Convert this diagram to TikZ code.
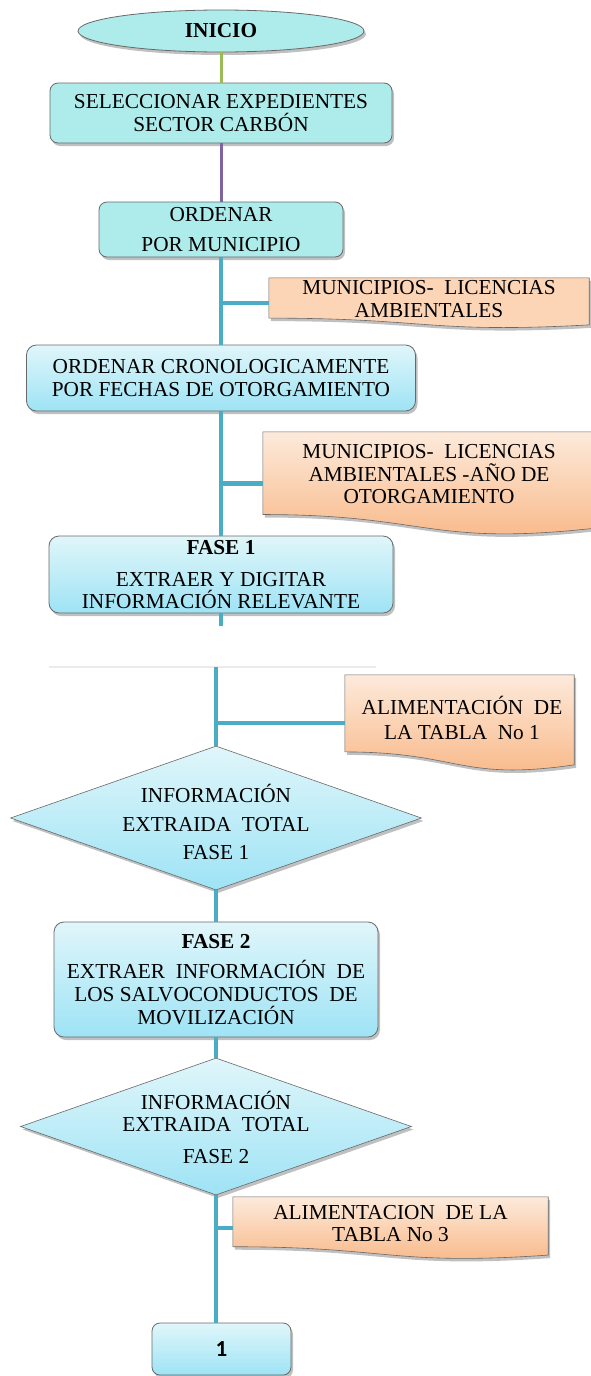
\documentclass[tikz,border=0pt]{standalone}
\usepackage{fontspec}
\setmainfont{Liberation Serif}
\newfontfamily\onefont{Carlito}
\usetikzlibrary{shapes.geometric,shadows,calc}
\definecolor{flatcyan}{RGB}{174,236,236}
\definecolor{cyantop}{RGB}{224,246,250}
\definecolor{cyanbot}{RGB}{158,227,245}
\definecolor{flatpeach}{RGB}{252,213,182}
\definecolor{peachtop}{RGB}{253,234,219}
\definecolor{peachbot}{RGB}{248,182,132}
\definecolor{bordergray}{RGB}{105,105,105}
\definecolor{spineblue}{RGB}{75,172,198}
\definecolor{spinegreen}{RGB}{155,187,89}
\definecolor{spinepurple}{RGB}{128,100,162}
\newcommand{\docpath}[1]{(#1.north west) -- (#1.north east) -- ($(#1.north east)!0.934!(#1.south east)$) .. controls ($(#1.north)!1.1075!(#1.south)$) and ($(#1.north)!0.8!(#1.south)$) .. ($(#1.north west)!0.8!(#1.south west)$) -- cycle}
\begin{document}
\begin{tikzpicture}[x=1pt,y=-1pt,
  every node/.style={font=\fontsize{21.3}{22.5}\selectfont, align=center, inner sep=0pt},
  shd/.style={drop shadow={shadow xshift=2pt,shadow yshift=-3pt,opacity=0.35,fill=black!70}},
  flatbox/.style={draw=bordergray, line width=0.8pt, fill=flatcyan, rounded corners=8pt, shd},
  gradbox/.style={draw=bordergray, line width=0.8pt, top color=cyantop, bottom color=cyanbot, rounded corners=10pt, shd},
  gradshape/.style={draw=bordergray, line width=0.6pt, top color=cyantop, bottom color=cyanbot, shd},
  docframe/.style={rectangle, draw=none, fill=none},
  flatdoc/.style={draw=bordergray, line width=0.6pt, fill=flatpeach, shd},
  graddoc/.style={draw=bordergray, line width=0.6pt, top color=peachtop, bottom color=peachbot, shd},
  spine/.style={draw=spineblue, line width=4.5pt},
  greenline/.style={draw=spinegreen, line width=3pt},
  purpleline/.style={draw=spinepurple, line width=3pt}
]
\useasboundingbox (0,0) rectangle (590,1376);
\fill[white] (0,0) rectangle (590,1376);

% page 1
\node[ellipse, draw=bordergray, line width=0.8pt, fill=flatcyan, shd, minimum width=286pt, minimum height=42pt] (e0) at (221,31) {\bfseries INICIO};
\node[flatbox, minimum width=342pt, minimum height=60pt] (b1) at (221,113) {SELECCIONAR EXPEDIENTES\\SECTOR CARBÓN};
\node[flatbox, minimum width=244pt, minimum height=55pt] (b2) at (221,229.5) {ORDENAR\\[7.5pt]POR MUNICIPIO};
\node[gradbox, minimum width=389pt, minimum height=66pt] (b3) at (221,378) {ORDENAR CRONOLOGICAMENTE\\POR FECHAS DE OTORGAMIENTO};
\node[gradbox, minimum width=344pt, minimum height=77pt] (b4) at (221,574.5) {\bfseries FASE 1\\[9.5pt]EXTRAER Y DIGITAR\\INFORMACIÓN RELEVANTE};
\coordinate (p1end) at (221,626);

\node[docframe, minimum width=320pt, minimum height=50pt] (d1) at (429,303) {};
\path[flatdoc] \docpath{d1};
\node (d1t) at (429,299) {MUNICIPIOS- \ LICENCIAS\\AMBIENTALES};

\node[docframe, minimum width=330pt, minimum height=103pt] (d2) at (428,483.5) {};
\path[graddoc] \docpath{d2};
\node (d2t) at (429,474.5) {MUNICIPIOS- \ LICENCIAS\\AMBIENTALES -AÑO DE\\OTORGAMIENTO};

\draw[greenline] (e0.south) -- (b1.north);
\draw[purpleline] (b1.south) -- (b2.north);
\draw[spine] (b2.south) -- (b3.north);
\draw[spine] (b3.north |- d1.west) -- (d1.west);
\draw[spine] (b3.south) -- (b4.north);
\draw[spine] (b4.north |- d2.west) -- (d2.west);
\draw[spine] (b4.south) -- (p1end);

% page edge
\draw[black!8, line width=2pt] (49,667) -- (376,667);

% page 2
\coordinate (p2start) at (216,667);
\node[diamond, gradshape, minimum width=411pt, minimum height=144pt] (dm1) at (216,818) {};
\node (dm1t) at (216,821.5) {INFORMACIÓN\\[6.5pt]EXTRAIDA \ TOTAL\\[5.5pt]FASE 1};
\node[gradbox, minimum width=324pt, minimum height=115pt] (b5) at (216,979.5) {\bfseries FASE 2\\[7.5pt]EXTRAER \ INFORMACIÓN \ DE\\[0.5pt]LOS SALVOCONDUCTOS \ DE\\MOVILIZACIÓN};
\node[diamond, gradshape, minimum width=391pt, minimum height=137pt] (dm2) at (216,1126.5) {};
\node (dm2t) at (216,1127.5) {INFORMACIÓN\\EXTRAIDA \ TOTAL\\[9.5pt]FASE 2};
\node[gradbox, rounded corners=8pt, minimum width=139pt, minimum height=52pt] (b6) at (221.5,1349) {\onefont\bfseries\fontsize{23}{25}\selectfont 1};

\node[docframe, minimum width=229pt, minimum height=96pt] (d3) at (459.5,723) {};
\path[graddoc] \docpath{d3};
\node (d3t) at (462,717.5) {ALIMENTACIÓN \ DE\\[2.5pt]LA TABLA \ No 1};

\node[docframe, minimum width=315pt, minimum height=62pt] (d4) at (390.5,1228) {};
\path[graddoc] \docpath{d4};
\node (d4t) at (390.5,1223.5) {ALIMENTACION \ DE LA\\TABLA No 3};

\draw[spine] (p2start) -- (dm1.north);
\draw[spine] (dm1.north |- d3.west) -- (d3.west);
\draw[spine] (dm1.south) -- (b5.north);
\draw[spine] (b5.south) -- (dm2.north);
\draw[spine] (dm2.south) -- (dm2.south |- b6.north);
\draw[spine] (dm2.south |- d4.west) -- (d4.west);
\end{tikzpicture}
\end{document}
